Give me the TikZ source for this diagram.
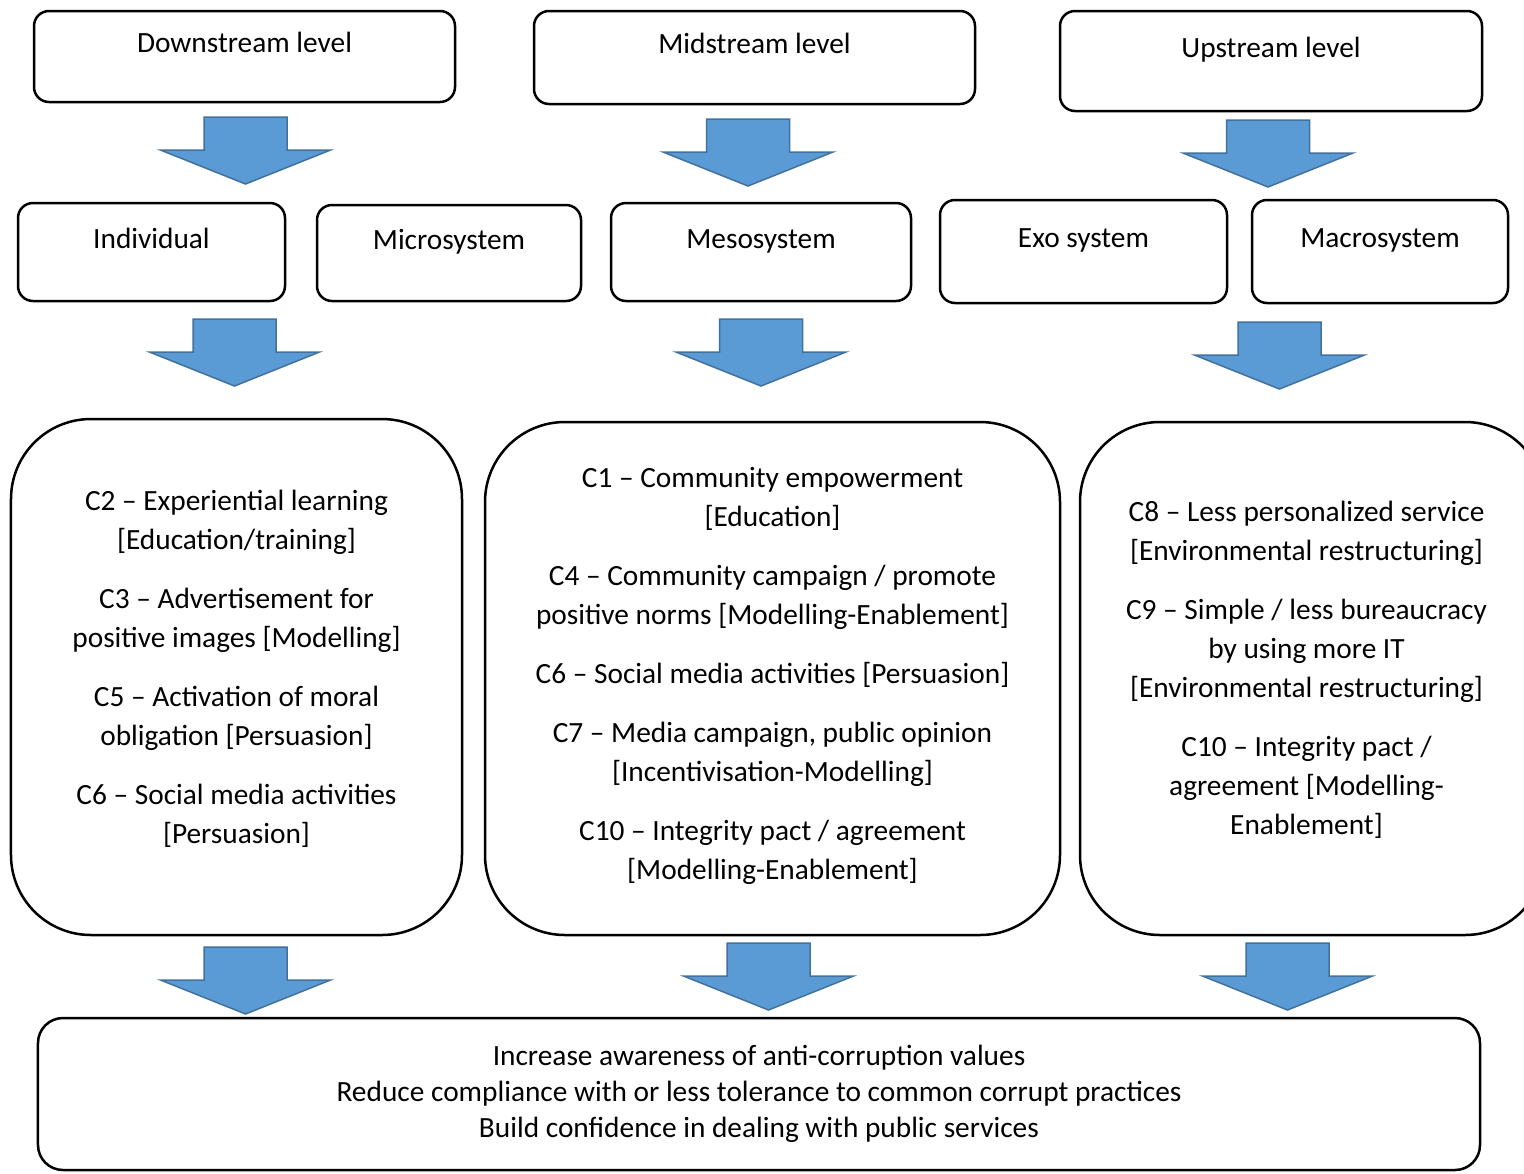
\documentclass[tikz,border=0pt]{standalone}
\usepackage{fontspec}
\setmainfont{Carlito}
\usepackage{tikz}
\definecolor{arrowblue}{HTML}{5B9BD5}
\definecolor{arrowedge}{HTML}{41719C}
\tikzset{
  boxnode/.style = {align=center, inner sep=0pt, text centered, draw=black, line width=0.5mm},
  lvl_box/.style = {boxnode, rounded corners=0.3cm, text height=0.35cm, text depth=0.51cm,
                    font=\fontsize{16.7}{19}\selectfont},
  cmp_box/.style = {boxnode, rounded corners=1.6cm},
  cmp_txt/.style = {align=center, inner sep=0pt, font=\fontsize{16.7}{22.2}\selectfont},
  out_box/.style = {boxnode, rounded corners=0.5cm, font=\fontsize{16.7}{20.5}\selectfont},
  blk_arrow/.pic = {
    \draw [fill=arrowblue, draw=arrowedge, line width=0.3mm, line join=miter]
      (-0.83,0) -- (0.83,0) -- (0.83,-0.66) -- (1.7,-0.66)
      -- (0,-1.34) -- (-1.7,-0.66) -- (-0.83,-0.66) -- cycle;
  },
}

\begin{document}
\begin{tikzpicture}
  \useasboundingbox (0,0) rectangle (30.48,-23.46);
  \clip (0,0) rectangle (30.48,-23.46);

  % levels
  \node [lvl_box, minimum width=8.42cm, minimum height=1.82cm] (down) at (4.89,-1.13) {Downstream level};
  \node [lvl_box, minimum width=8.82cm, minimum height=1.86cm] (mid) at (15.09,-1.15) {Midstream level};
  \node [lvl_box, minimum width=8.44cm, minimum height=2.00cm] (up) at (25.42,-1.22) {Upstream level};

  \pic (a_down) at (4.91,-2.34) {blk_arrow};
  \pic (a_mid) at (14.96,-2.38) {blk_arrow};
  \pic (a_up) at (25.36,-2.40) {blk_arrow};

  % systems
  \node [lvl_box, minimum width=5.34cm, minimum height=1.96cm] (indiv) at (3.03,-5.04) {Individual};
  \node [lvl_box, minimum width=5.28cm, minimum height=1.92cm] (micro) at (8.98,-5.06) {Microsystem};
  \node [lvl_box, minimum width=6.00cm, minimum height=1.96cm] (meso) at (15.22,-5.04) {Mesosystem};
  \node [lvl_box, minimum width=5.74cm, minimum height=2.06cm] (exo) at (21.67,-5.03) {Exo system};
  \node [lvl_box, minimum width=5.12cm, minimum height=2.06cm] (macro) at (27.60,-5.03) {Macrosystem};

  \pic (b_down) at (4.69,-6.38) {blk_arrow};
  \pic (b_mid) at (15.22,-6.38) {blk_arrow};
  \pic (b_up) at (25.59,-6.44) {blk_arrow};

  % components
  \node [cmp_box, minimum width=9.02cm, minimum height=10.32cm] (c_down) at (4.73,-13.54) {};
  \node [cmp_box, minimum width=11.5cm, minimum height=10.26cm] (c_mid) at (15.45,-13.57) {};
  \node [cmp_box, minimum width=9.3cm, minimum height=10.26cm] (c_up) at (26.25,-13.57) {};

  \node [cmp_txt] (t_down) at ([yshift=0.17cm]c_down.center) {
    C2 -- Experiential learning\\{}[Education/training]\\[0.4cm]
    C3 -- Advertisement for\\ positive images [Modelling]\\[0.4cm]
    C5 -- Activation of moral\\ obligation [Persuasion]\\[0.4cm]
    C6 -- Social media activities\\{}[Persuasion]};
  \node [cmp_txt] (t_mid) at ([yshift=0.05cm]c_mid.center) {
    C1 -- Community empowerment\\{}[Education]\\[0.4cm]
    C4 -- Community campaign / promote\\ positive norms [Modelling-Enablement]\\[0.4cm]
    C6 -- Social media activities [Persuasion]\\[0.4cm]
    C7 -- Media campaign, public opinion\\{}[Incentivisation-Modelling]\\[0.4cm]
    C10 -- Integrity pact / agreement\\{}[Modelling-Enablement]};
  \node [cmp_txt] (t_up) at ([xshift=-0.12cm, yshift=0.18cm]c_up.center) {
    C8 -- Less personalized service\\{}[Environmental restructuring]\\[0.4cm]
    C9 -- Simple / less bureaucracy\\ by using more IT\\{}[Environmental restructuring]\\[0.4cm]
    C10 -- Integrity pact /\\ agreement [Modelling-\\ Enablement]};

  \pic (d_down) at (4.91,-18.94) {blk_arrow};
  \pic (d_mid) at (15.37,-18.86) {blk_arrow};
  \pic (d_up) at (25.75,-18.86) {blk_arrow};

  % outcomes
  \node [out_box, minimum width=28.84cm, minimum height=3.04cm] (result) at (15.18,-21.88) {
    Increase awareness of anti-corruption values\\
    Reduce compliance with or less tolerance to common corrupt practices\\
    Build confidence in dealing with public services};
\end{tikzpicture}
\end{document}
